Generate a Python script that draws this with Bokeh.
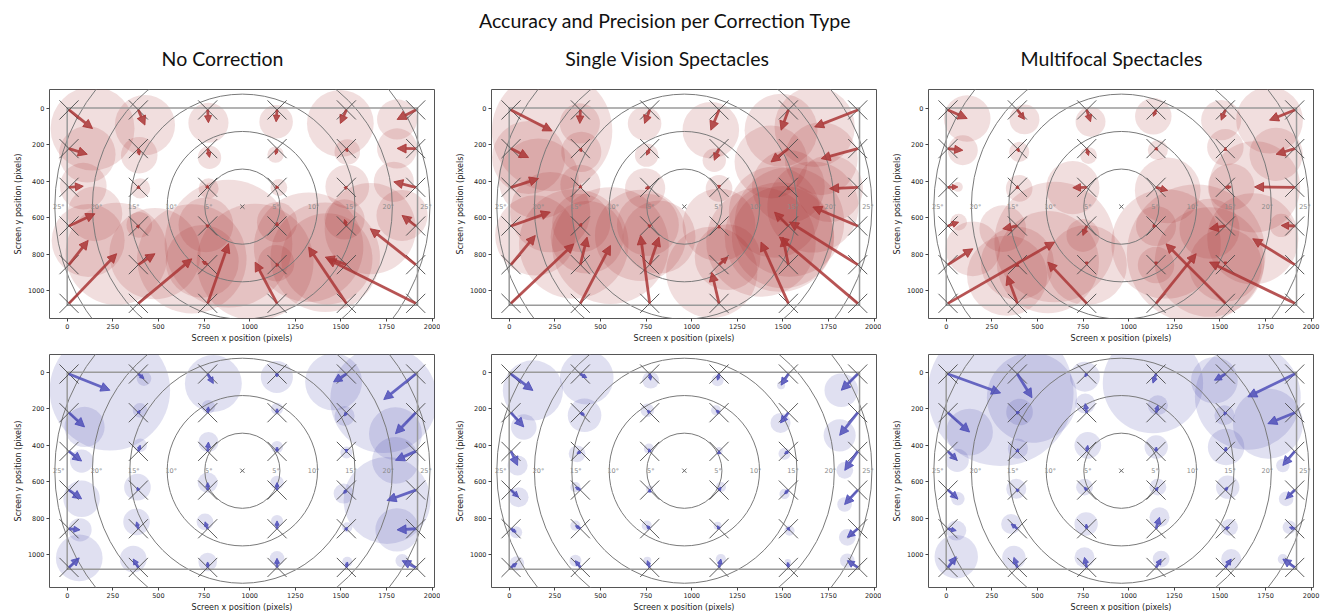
import math
from bokeh.plotting import figure
from bokeh.layouts import column, row
from bokeh.models import Range1d, Arrow, NormalHead, ColumnDataSource, FixedTicker
from bokeh.core.properties import value, field
from bokeh.embed import file_html
from bokeh.resources import INLINE

main_title = "Accuracy and Precision per Correction Type"
column_titles = ["No Correction", "Single Vision Spectacles", "Multifocal Spectacles"]

target_x = [10, 390, 770, 1150, 1530, 1910]
target_y = [10, 222, 434, 646, 858, 1070]
screen_w, screen_h = 1920, 1080
center_x, center_y = 960, 540
ecc_deg = [5, 10, 15, 20, 25]
ecc_radius = [206, 412, 617, 822, 1028]
x_ticks = [0, 250, 500, 750, 1000, 1250, 1500, 1750, 2000]
y_ticks = [0, 200, 400, 600, 800, 1000]

# mean gaze (x, y) and precision radius per target, row-major over target_y x target_x
# --- top row (red) ---
nc_red_gx = [139, 426, 774, 1145, 1497, 1808,
             110, 395, 780, 1142, 1535, 1808,
             88, 400, 775, 1160, 1535, 1790,
             152, 395, 760, 1150, 1520, 1835,
             115, 481, 740, 1145, 1414, 1661,
             271, 683, 884, 1030, 1323, 1423]
nc_red_gy = [112, 93, 80, 75, 84, 62,
             253, 258, 270, 255, 240, 221,
             428, 440, 440, 435, 430, 404,
             579, 640, 640, 625, 610, 588,
             725, 798, 840, 850, 817, 661,
             798, 826, 743, 844, 762, 826]
nc_red_r = [230, 165, 110, 92, 183, 110,
            155, 100, 64, 45, 70, 110,
            128, 55, 55, 46, 120, 110,
            150, 70, 150, 110, 110, 140,
            200, 250, 200, 100, 300, 250,
            280, 300, 350, 320, 300, 250]

sv_red_gx = [235, 387, 742, 1105, 1490, 1674,
             106, 395, 753, 1124, 1435, 1710,
             161, 390, 745, 1150, 1530, 1756,
             225, 395, 760, 1150, 1454, 1664,
             143, 427, 821, 1197, 1500, 1536,
             354, 555, 720, 1110, 1380, 1481]
sv_red_gy = [125, 84, 84, 121, 121, 103,
             271, 240, 258, 286, 295, 277,
             386, 420, 440, 440, 430, 441,
             570, 630, 640, 640, 570, 542,
             698, 707, 707, 817, 707, 624,
             744, 753, 698, 900, 734, 707]
sv_red_r = [330, 110, 92, 155, 200, 220,
            200, 110, 64, 64, 200, 200,
            220, 110, 110, 73, 200, 183,
            220, 160, 170, 200, 250, 250,
            220, 200, 200, 180, 280, 300,
            300, 320, 250, 250, 300, 300]

mf_red_gx = [115, 429, 791, 1135, 1507, 1772,
             91, 400, 780, 1160, 1530, 1808,
             64, 400, 694, 1214, 1562, 1690,
             68, 310, 749, 1150, 1443, 1836,
             146, 390, 770, 1150, 1530, 1680,
             594, 334, 557, 1370, 1205, 1443]
mf_red_gy = [57, 62, 75, 45, 66, 66,
             231, 240, 260, 230, 215, 253,
             432, 440, 436, 451, 432, 432,
             625, 661, 698, 646, 661, 643,
             771, 850, 860, 860, 860, 716,
             734, 918, 844, 798, 744, 844]
mf_red_r = [128, 82, 82, 100, 110, 183,
            82, 55, 46, 55, 100, 146,
            27, 73, 146, 180, 128, 250,
            46, 128, 90, 110, 165, 64,
            150, 200, 220, 100, 200, 250,
            330, 220, 280, 380, 300, 300]

# --- bottom row (blue) ---
nc_blue_gx = [234, 421, 801, 1149, 1460, 1735,
              95, 399, 774, 1150, 1520, 1799,
              79, 400, 774, 1150, 1530, 1799,
              79, 385, 770, 1150, 1515, 1753,
              70, 380, 755, 1150, 1535, 1808,
              66, 362, 770, 1150, 1535, 1836]
nc_blue_gy = [99, 35, 62, 26, 53, 150,
              300, 209, 190, 200, 240, 337,
              487, 400, 383, 410, 440, 483,
              694, 630, 605, 605, 665, 703,
              864, 820, 820, 815, 850, 864,
              1018, 1024, 1040, 1020, 1040, 1033]
nc_blue_r = [330, 40, 156, 88, 156, 293,
             110, 40, 37, 33, 55, 145,
             64, 37, 55, 33, 33, 128,
             100, 73, 55, 37, 55, 238,
             64, 73, 46, 33, 28, 119,
             128, 73, 51, 40, 28, 37]

sv_blue_gx = [130, 425, 775, 1142, 1490, 1820,
              80, 413, 757, 1134, 1487, 1811,
              46, 372, 766, 1150, 1509, 1839,
              51, 363, 770, 1160, 1509, 1838,
              38, 363, 754, 1142, 1536, 1853,
              42, 363, 757, 1160, 1527, 1853]
sv_blue_gy = [100, 30, 44, 44, 71, 99,
              300, 236, 209, 209, 278, 346,
              511, 447, 419, 430, 447, 538,
              685, 630, 640, 630, 667, 725,
              877, 841, 841, 841, 868, 905,
              1048, 1033, 1033, 1024, 1042, 1033]
sv_blue_r = [165, 147, 46, 33, 22, 92,
             70, 92, 37, 28, 55, 88,
             55, 46, 28, 20, 33, 46,
             55, 28, 20, 28, 28, 40,
             33, 28, 28, 22, 28, 46,
             40, 33, 22, 28, 18, 40]

mf_blue_gx = [298, 470, 760, 1133, 1470, 1653,
              128, 402, 762, 1160, 1525, 1763,
              60, 393, 776, 1151, 1534, 1845,
              64, 384, 758, 1160, 1543, 1863,
              55, 356, 767, 1169, 1553, 1881,
              55, 371, 758, 1178, 1562, 1845]
mf_blue_gy = [114, 140, 25, 60, 44, 135,
              328, 218, 172, 181, 236, 282,
              483, 419, 401, 410, 410, 511,
              694, 639, 630, 630, 630, 694,
              868, 832, 832, 795, 850, 850,
              1011, 1015, 1015, 1024, 1024, 1024]
mf_blue_r = [400, 247, 82, 275, 128, 290,
             128, 73, 55, 55, 55, 192,
             64, 55, 73, 64, 100, 37,
             37, 55, 46, 46, 64, 40,
             55, 55, 64, 55, 46, 37,
             119, 64, 55, 46, 55, 28]

RED_FILL, RED_ARROW = "#a83030", "#aa3636"
BLUE_FILL, BLUE_ARROW = "#4040a8", "#4f4fb8"

X_START, X_END = -97, 2013
FRAME_W = 385
LEFTS = [49, 51, 47]
RIGHTS = [6, 5, 10]

TOTAL_W = 1322
TITLE_H = 75
PX_PER_UNIT = FRAME_W / (X_END - X_START)


def make_panel(col, gx, gy, rad, fill, arrow_col, top):
    fh = 229 if top else 233
    yspan = fh * (X_END - X_START) / FRAME_W
    y_top = -102 if top else -97
    p = figure(frame_width=FRAME_W, frame_height=fh,
               x_range=Range1d(X_START, X_END),
               y_range=Range1d(y_top + yspan, y_top),
               output_backend="svg", toolbar_location=None,
               min_border_left=LEFTS[col], min_border_right=RIGHTS[col],
               min_border_top=14 if top else 6,
               min_border_bottom=30 if top else 24)
    p.background_fill_color = "white"
    p.border_fill_color = "white"
    p.outline_line_color = "#555555"
    p.outline_line_width = 1
    p.grid.visible = False

    tx = [x for y in target_y for x in target_x]
    ty = [y for y in target_y for x in target_x]

    # precision circles
    p.circle(x=gx, y=gy, radius=rad, fill_color=fill, fill_alpha=0.16,
             line_color=None)
    # eccentricity rings
    p.circle(x=[center_x] * len(ecc_radius), y=[center_y] * len(ecc_radius),
             radius=ecc_radius, fill_color=None, line_color="#7a7a7a",
             line_width=1)
    # ring labels
    lab_x = [center_x - r + 22 for r in ecc_radius] + [center_x + r - 22 for r in ecc_radius]
    lab_t = [f"{d}°" for d in ecc_deg] * 2
    p.text(x=lab_x, y=[center_y] * len(lab_x), text=lab_t,
           text_font=value("DejaVu Sans"), text_font_size="6.5px",
           text_color="#8a8a8a", text_align="center", text_baseline="middle")
    # screen boundary
    p.quad(left=[0], right=[screen_w], top=[0], bottom=[screen_h],
           fill_color=None, line_color="#9a9a9a", line_width=1.5)
    # center marker
    p.scatter(x=[center_x], y=[center_y], marker="x", size=6,
              line_color="#666666", line_width=1)
    # target markers
    p.scatter(x=tx, y=ty, marker="x", size=27, line_color="#4a4a4a",
              line_width=0.9)
    # accuracy arrows; head scales down for short arrows
    lens = [math.hypot(a - c, b - d) * PX_PER_UNIT for a, b, c, d in zip(gx, gy, tx, ty)]
    hs = [max(3.0, min(9.0, 0.55 * L)) for L in lens]
    src = ColumnDataSource(dict(x0=tx, y0=ty, x1=gx, y1=gy, hs=hs))
    p.add_layout(Arrow(end=NormalHead(size=field("hs"), fill_color=arrow_col,
                                      line_color=arrow_col, fill_alpha=0.85,
                                      line_alpha=0.85),
                       x_start="x0", y_start="y0", x_end="x1", y_end="y1",
                       source=src, line_color=arrow_col, line_width=2.8,
                       line_alpha=0.85))

    p.xaxis.ticker = FixedTicker(ticks=x_ticks)
    p.yaxis.ticker = FixedTicker(ticks=y_ticks)
    p.xaxis.axis_label = "Screen x position (pixels)"
    p.yaxis.axis_label = "Screen y position (pixels)"
    for ax in (p.xaxis, p.yaxis):
        ax.axis_line_color = None
        ax.major_tick_out = 3
        ax.major_tick_in = 0
        ax.minor_tick_out = 0
        ax.minor_tick_in = 0
        ax.major_tick_line_color = "#444444"
        ax.major_label_text_font = "DejaVu Sans"
        ax.major_label_text_font_size = "6.5px"
        ax.major_label_text_color = "#222222"
        ax.major_label_standoff = 2
        ax.axis_label_text_font = "DejaVu Sans"
        ax.axis_label_text_font_size = "8px"
        ax.axis_label_text_font_style = "normal"
        ax.axis_label_text_color = "#222222"
        ax.axis_label_standoff = 2
    return p


# title strip
tfig = figure(width=TOTAL_W, height=TITLE_H, x_range=Range1d(0, TOTAL_W),
              y_range=Range1d(TITLE_H, 0), output_backend="svg",
              toolbar_location=None, min_border=0)
tfig.axis.visible = False
tfig.grid.visible = False
tfig.outline_line_color = None
tfig.text(x=[665], y=[20], text=[main_title], text_font=value("Lato"),
          text_font_size="19.5px", text_color="#111111", text_align="center",
          text_baseline="middle")
tfig.text(x=[222, 667, 1111], y=[58, 58, 58], text=column_titles,
          text_font=value("Lato"), text_font_size="19.5px", text_color="#111111",
          text_align="center", text_baseline="middle")

top_data = [(nc_red_gx, nc_red_gy, nc_red_r), (sv_red_gx, sv_red_gy, sv_red_r),
            (mf_red_gx, mf_red_gy, mf_red_r)]
bot_data = [(nc_blue_gx, nc_blue_gy, nc_blue_r), (sv_blue_gx, sv_blue_gy, sv_blue_r),
            (mf_blue_gx, mf_blue_gy, mf_blue_r)]

top_row = [make_panel(i, *d, RED_FILL, RED_ARROW, True) for i, d in enumerate(top_data)]
bot_row = [make_panel(i, *d, BLUE_FILL, BLUE_ARROW, False) for i, d in enumerate(bot_data)]

layout = column(tfig, row(*top_row), row(*bot_row))

open("out.html", "w").write(file_html(layout, INLINE))
